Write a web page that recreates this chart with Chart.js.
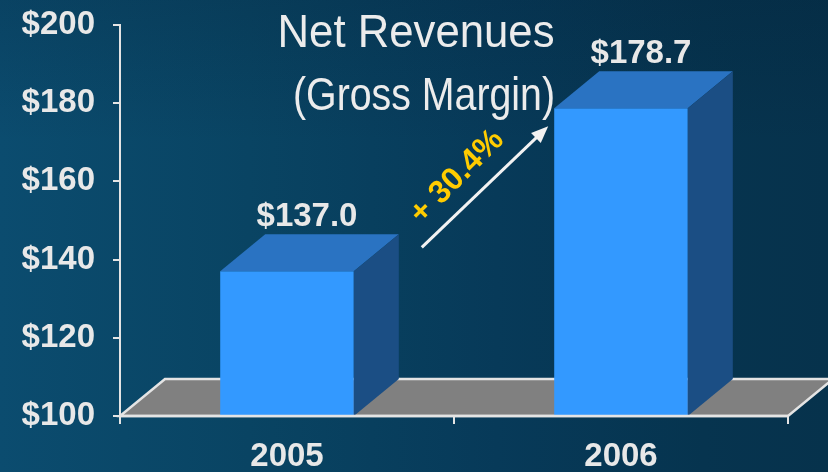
<!DOCTYPE html>
<html>
<head>
<meta charset="utf-8">
<title>Net Revenues (Gross Margin)</title>
<script src="https://cdn.jsdelivr.net/npm/chart.js@4.4.1/dist/chart.umd.min.js"></script>
<style>
html, body { margin: 0; padding: 0; }
body {
    width: 828px; height: 472px; overflow: hidden;
    background:
        linear-gradient(180deg, rgba(3, 25, 45, 0.18) 0%, rgba(3, 25, 45, 0) 30%),
        linear-gradient(90deg, #0b4c6f 0%, #094463 30%, #073a59 60%, #06344f 85%, #06324c 100%);
}
canvas { display: block; }
</style>
</head>
<body>
<canvas id="chart" width="828" height="472"></canvas>
<script>
// data
var years = ['2005', '2006'];
var revenues = [137.0, 178.7];
var yMin = 100, yMax = 200, yStep = 20;
var titleLines = ['Net Revenues', '(Gross Margin)'];
var growthLabel = '+ 30.4%';

var FONT = '"Liberation Sans", Arial, Helvetica, sans-serif';
var TEXT = '#e8e8e8';
var LINE = '#e4e4e4';
var depthX = 45, depthY = 37;   // 3d offset of the bars and floor

function money(v){
    return '$' + v.toFixed(1);
}

// draws the floor under the bars, then top/side faces, labels, arrow and title
var bar3d = {
    id : 'bar3d',
    beforeDatasetsDraw : function(chart){
        var ctx = chart.ctx, a = chart.chartArea;
        var yb = chart.scales.y.getPixelForValue(yMin);
        ctx.save();
        ctx.beginPath();
        ctx.moveTo(a.left, yb);
        ctx.lineTo(a.right, yb);
        ctx.lineTo(a.right + depthX, yb - depthY);
        ctx.lineTo(a.left + depthX, yb - depthY);
        ctx.closePath();
        ctx.fillStyle = '#808080';
        ctx.fill();
        ctx.strokeStyle = LINE;
        ctx.lineWidth = 2.5;
        ctx.stroke();
        ctx.restore();
    },
    afterDatasetsDraw : function(chart){
        var ctx = chart.ctx, a = chart.chartArea;
        var meta = chart.getDatasetMeta(0);
        var yb = chart.scales.y.getPixelForValue(yMin);
        var boxes = [];
        ctx.save();
        for(var i=0;i<meta.data.length;i++){
            var p = meta.data[i].getProps(['x', 'y', 'width'], true);
            var l = p.x - p.width/2, r = p.x + p.width/2;
            // top face
            ctx.beginPath();
            ctx.moveTo(l, p.y);
            ctx.lineTo(l + depthX, p.y - depthY);
            ctx.lineTo(r + depthX, p.y - depthY);
            ctx.lineTo(r, p.y);
            ctx.closePath();
            ctx.fillStyle = '#2a73c2';
            ctx.fill();
            // side face
            ctx.beginPath();
            ctx.moveTo(r, p.y);
            ctx.lineTo(r + depthX, p.y - depthY);
            ctx.lineTo(r + depthX, yb - depthY);
            ctx.lineTo(r, yb);
            ctx.closePath();
            ctx.fillStyle = '#1b4e84';
            ctx.fill();
            // value label
            ctx.fillStyle = TEXT;
            ctx.font = 'bold 33px ' + FONT;
            ctx.textAlign = 'center';
            ctx.textBaseline = 'alphabetic';
            ctx.fillText(money(revenues[i]), p.x + 20, p.y - depthY - 8);
            boxes.push({l : l, r : r, y : p.y});
        }

        // front edge of the floor over the bars
        ctx.beginPath();
        ctx.moveTo(a.left, yb);
        ctx.lineTo(a.right, yb);
        ctx.strokeStyle = LINE;
        ctx.lineWidth = 2.5;
        ctx.stroke();

        // growth arrow from the 2005 bar to the 2006 bar
        var x0 = boxes[0].r + depthX + 23, y0 = boxes[0].y - depthY + 13;
        var x1 = boxes[1].l - 6, y1 = boxes[1].y + 18;
        var ang = Math.atan2(y1 - y0, x1 - x0);
        ctx.strokeStyle = '#f2f2f2';
        ctx.fillStyle = '#f2f2f2';
        ctx.lineWidth = 3;
        ctx.beginPath();
        ctx.moveTo(x0, y0);
        ctx.lineTo(x1 - 12*Math.cos(ang), y1 - 12*Math.sin(ang));
        ctx.stroke();
        ctx.beginPath();
        ctx.moveTo(x1, y1);
        ctx.lineTo(x1 - 17*Math.cos(ang) + 7*Math.sin(ang), y1 - 17*Math.sin(ang) - 7*Math.cos(ang));
        ctx.lineTo(x1 - 17*Math.cos(ang) - 7*Math.sin(ang), y1 - 17*Math.sin(ang) + 7*Math.cos(ang));
        ctx.closePath();
        ctx.fill();

        // growth label
        ctx.save();
        ctx.translate((x0 + x1)/2 - 28, (y0 + y1)/2 - 10);
        ctx.rotate(-Math.PI/4);
        ctx.fillStyle = '#ffcc00';
        ctx.font = 'bold 32px ' + FONT;
        ctx.textAlign = 'center';
        ctx.textBaseline = 'middle';
        ctx.fillText(growthLabel, 0, 0);
        ctx.restore();

        // title, two lines, squeezed a little to fit
        var tl = [{cx : 416, by : 47, w : 277}, {cx : 424, by : 110, w : 262}];
        ctx.font = '46px ' + FONT;
        ctx.fillStyle = '#ececec';
        ctx.textAlign = 'center';
        for(var j=0;j<titleLines.length;j++){
            var mw = ctx.measureText(titleLines[j]).width;
            ctx.save();
            ctx.translate(tl[j].cx, tl[j].by);
            ctx.scale(tl[j].w / mw, 1);
            ctx.fillText(titleLines[j], 0, 0);
            ctx.restore();
        }
        ctx.restore();
    }
};

var tickFont = {family : FONT, size : 33, weight : 'bold'};

new Chart(document.getElementById('chart'), {
    type : 'bar',
    data : {
        labels : years,
        datasets : [{
            label : 'Net Revenues',
            data : revenues,
            backgroundColor : '#3399ff',
            borderWidth : 0,
            barPercentage : 0.4,
            categoryPercentage : 1.0
        }]
    },
    options : {
        responsive : false,
        animation : false,
        layout : { padding : { top : 25, right : 40, bottom : 0, left : 0 } },
        plugins : {
            legend : { display : false },
            tooltip : { enabled : false }
        },
        scales : {
            x : {
                grid : { drawOnChartArea : false, color : LINE, lineWidth : 2, tickLength : 8, offset : true },
                border : { color : LINE, width : 2 },
                ticks : { color : TEXT, font : tickFont, padding : 13, maxRotation : 0 },
                afterFit : function(s){ s.height = 56; }
            },
            y : {
                min : yMin,
                max : yMax,
                grid : { drawOnChartArea : false, color : LINE, lineWidth : 2, tickLength : 7 },
                border : { color : LINE, width : 2 },
                ticks : {
                    stepSize : yStep,
                    color : TEXT,
                    font : tickFont,
                    padding : 18,
                    callback : function(v){ return '$' + v; }
                },
                afterFit : function(s){
                    s.width = 120;
                    s.paddingTop = 0;
                    s.paddingBottom = 0;
                }
            }
        }
    },
    plugins : [bar3d]
});
</script>
</body>
</html>
